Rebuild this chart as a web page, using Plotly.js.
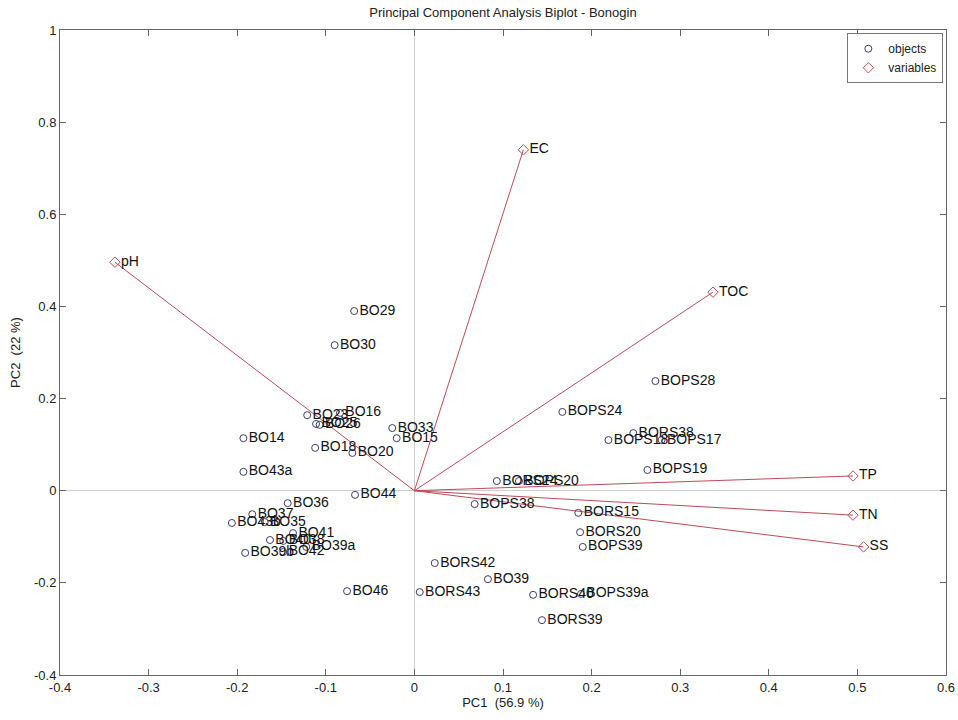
<!DOCTYPE html>
<html>
<head>
<meta charset="utf-8">
<script src="https://cdn.plot.ly/plotly-3.0.1.min.js"></script>
<style>html,body{margin:0;padding:0;background:#fff;}#chart{width:958px;height:720px;}</style>
</head>
<body>
<div id="chart"></div>
<script>
// Objects (scores)
const objNames = ["BO29","BO30","BO23","BO16","BO25","BO26","BO14","BO18","BO20","BO33","BO15","BO43a",
  "BO44","BO36","BO37","BO43b","BO35","BO41","BO40","BO38","BO39a","BO42","BO39b","BO46",
  "BOPS28","BOPS24","BOPS18","BORS38","BOPS17","BOPS19","BORS24","BOPS20","BOPS38","BORS15","BORS20","BOPS39",
  "BORS42","BO39","BORS43","BORS40","BOPS39a","BORS39"];
const objPC1 = [-0.068,-0.090,-0.121,-0.084,-0.111,-0.107,-0.193,-0.112,-0.070,-0.025,-0.020,-0.193,
  -0.067,-0.143,-0.183,-0.206,-0.169,-0.137,-0.163,-0.148,-0.122,-0.148,-0.191,-0.076,
  0.272,0.167,0.219,0.247,0.279,0.263,0.093,0.118,0.068,0.185,0.187,0.190,
  0.023,0.083,0.006,0.134,0.188,0.144];
const objPC2 = [0.390,0.316,0.164,0.169,0.145,0.143,0.114,0.093,0.082,0.136,0.114,0.041,
  -0.009,-0.027,-0.051,-0.070,-0.068,-0.092,-0.107,-0.109,-0.122,-0.133,-0.135,-0.218,
  0.238,0.171,0.110,0.125,0.110,0.045,0.021,0.021,-0.029,-0.048,-0.090,-0.122,
  -0.157,-0.192,-0.220,-0.226,-0.224,-0.281];

// Variables (loadings)
const varNames = ["pH","EC","TOC","TP","TN","SS"];
const varPC1 = [-0.338,0.123,0.337,0.495,0.495,0.507];
const varPC2 = [0.496,0.740,0.431,0.032,-0.053,-0.122];

const xTickVals = [-0.4,-0.3,-0.2,-0.1,0,0.1,0.2,0.3,0.4,0.5,0.6];
const xTickText = ["-0.4","-0.3","-0.2","-0.1","0","0.1","0.2","0.3","0.4","0.5","0.6"];
const yTickVals = [-0.4,-0.2,0,0.2,0.4,0.6,0.8,1];
const yTickText = ["-0.4","-0.2","0","0.2","0.4","0.6","0.8","1"];

const FONT = "Arial, 'Liberation Sans', sans-serif";
const vecColor = "#bf4a58";
const objColor = "#3c3c6e";

// vector lines built from loadings
const lx = [], ly = [];
varPC1.forEach((v,i)=>{ lx.push(0, v, null); ly.push(0, varPC2[i], null); });

const traces = [
  {x: lx, y: ly, mode: "lines", line: {color: vecColor, width: 1}, showlegend: false, hoverinfo: "skip"},
  {x: objPC1, y: objPC2, text: objNames, mode: "markers+text", name: "objects",
   textposition: "middle right", textfont: {family: FONT, size: 14, color: "#111"},
   marker: {symbol: "circle-open", size: 7, color: objColor, line: {width: 1, color: objColor}}},
  {x: varPC1, y: varPC2, text: varNames, mode: "markers+text", name: "variables",
   textposition: "middle right", textfont: {family: FONT, size: 14, color: "#111"},
   marker: {symbol: "diamond-open", size: 8, color: vecColor, line: {width: 1, color: vecColor}}}
];

const layout = {
  width: 958, height: 720,
  margin: {l: 60, r: 12, t: 30, b: 45},
  paper_bgcolor: "#fff", plot_bgcolor: "#fff",
  font: {family: FONT, size: 14, color: "#222"},
  title: {text: "Principal Component Analysis Biplot - Bonogin", font: {family: FONT, size: 13, color: "#222"},
          x: 0.525, xanchor: "center", y: 0.983, yanchor: "middle"},
  xaxis: {range: [-0.4, 0.6], tickvals: xTickVals, ticktext: xTickText,
          showgrid: false, zeroline: true, zerolinecolor: "#cfcfcf", zerolinewidth: 1,
          showline: true, mirror: "ticks", linecolor: "#666", linewidth: 1,
          ticks: "inside", ticklen: 6, tickcolor: "#666",
          tickfont: {family: FONT, size: 13, color: "#222"},
          title: {text: "PC1  (56.9 %)", font: {family: FONT, size: 13, color: "#222"}, standoff: 2},
          automargin: false},
  yaxis: {range: [-0.4, 1], tickvals: yTickVals, ticktext: yTickText,
          showgrid: false, zeroline: true, zerolinecolor: "#cfcfcf", zerolinewidth: 1,
          showline: true, mirror: "ticks", linecolor: "#666", linewidth: 1,
          ticks: "inside", ticklen: 6, tickcolor: "#666",
          tickfont: {family: FONT, size: 13, color: "#222"},
          title: {text: "PC2  (22 %)", font: {family: FONT, size: 13, color: "#222"}, standoff: 10},
          automargin: false},
  legend: {x: 0.997, xanchor: "right", y: 0.995, yanchor: "top", bgcolor: "#fff",
           bordercolor: "#777", borderwidth: 1, font: {family: FONT, size: 12, color: "#222"},
           tracegroupgap: 0, itemsizing: "trace", itemwidth: 30},
  showlegend: true
};

Plotly.newPlot("chart", traces, layout, {staticPlot: true, displayModeBar: false});
</script>
</body>
</html>
